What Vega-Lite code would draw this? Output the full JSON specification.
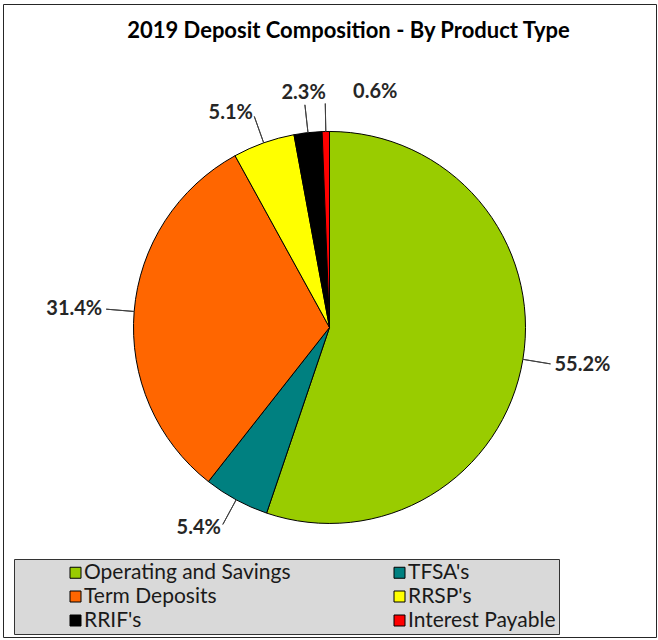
{
  "$schema": "https://vega.github.io/schema/vega-lite/v6.json",
  "width": 653,
  "height": 633,
  "autosize": {"type": "none"},
  "padding": {"left": 3, "top": 4, "right": 2, "bottom": 3},
  "background": "white",
  "title": {
    "text": "2019 Deposit Composition - By Product Type",
    "font": "Lato", "fontSize": 22, "fontWeight": "bold", "color": "#000000",
    "anchor": "middle", "baseline": "alphabetic", "offset": -56, "dx": 19
  },
  "config": {"view": {"stroke": "#262626", "strokeWidth": 1}},
  "data": {"values": [
    {"cat": "Operating and Savings", "share": 0.552},
    {"cat": "TFSA's", "share": 0.054},
    {"cat": "Term Deposits", "share": 0.314},
    {"cat": "RRSP's", "share": 0.051},
    {"cat": "RRIF's", "share": 0.023},
    {"cat": "Interest Payable", "share": 0.006}
  ]},
  "transform": [
    {"window": [{"op": "row_number", "as": "idx"}]},
    {"fold": ["share", "share"], "as": ["part", "half"]},
    {"stack": "half", "groupby": [], "sort": [{"field": "idx", "order": "ascending"}], "as": ["h0", "h1"]},
    {"window": [{"op": "row_number", "as": "copy"}], "groupby": ["cat"], "sort": [{"field": "h0", "order": "ascending"}]},
    {"filter": "datum.copy == 1"}
  ],
  "encoding": {
    "x": {"datum": 0, "type": "quantitative", "scale": {"domain": [-1, 1], "nice": false, "zero": false}, "axis": null},
    "y": {"datum": 0, "type": "quantitative", "scale": {"domain": [-0.489, 0.511], "nice": false, "zero": false}, "axis": null}
  },
  "layer": [
    {
      "mark": {"type": "arc", "radius": 196, "stroke": "#000000", "strokeWidth": 1},
      "encoding": {
        "theta": {"field": "share", "type": "quantitative", "stack": true, "scale": {"domain": [0, 1]}},
        "order": {"field": "idx", "type": "quantitative"},
        "color": {
          "field": "cat", "type": "nominal",
          "scale": {
            "domain": ["Operating and Savings", "TFSA's", "Term Deposits", "RRSP's", "RRIF's", "Interest Payable"],
            "range": ["#99cc00", "#008080", "#ff6600", "#ffff00", "#000000", "#ff0000"]
          },
          "legend": {
            "orient": "none", "legendX": 11, "legendY": 555,
            "columns": 2, "direction": "horizontal", "gridAlign": "all",
            "title": "\u2800\u2800\u2800\u2800\u2800\u2800\u2800\u2800", "titleOrient": "left",
            "titleFont": "DejaVu Sans Mono", "titleFontSize": 7.98, "titlePadding": 0,
            "fillColor": "#d9d9d9", "strokeColor": "#333333", "padding": 3,
            "symbolType": "square", "symbolSize": 121, "symbolStrokeColor": "#000000",
            "symbolStrokeWidth": 1, "symbolOpacity": 1,
            "labelFont": "Lato, DejaVu Sans Mono", "labelFontSize": 21, "labelColor": "#1a1a1a",
            "labelOffset": -2, "labelLimit": 600,
            "columnPadding": 67, "rowPadding": 2,
            "labelExpr": "datum.label == 'Operating and Savings' ? datum.label + '\u00a0\u00a0\u00a0\u2800' : datum.label"
          }
        }
      }
    },
    {
      "mark": {"type": "arc", "stroke": "#404040", "strokeWidth": 1, "fillOpacity": 0},
      "encoding": {
        "theta": {"field": "h1", "type": "quantitative", "stack": null, "scale": {"domain": [0, 2]}},
        "theta2": {"field": "h1"},
        "radius": {"value": 224},
        "radius2": {"value": 196}
      }
    },
    {
      "transform": [{"filter": {"field": "cat", "oneOf": ["Operating and Savings"]}}],
      "mark": {"type": "text", "align": "left", "baseline": "middle", "font": "Lato", "fontSize": 20, "fontWeight": "bold", "color": "#262626"},
      "encoding": {
        "theta": {"field": "h1", "type": "quantitative", "stack": null, "scale": {"domain": [0, 2]}},
        "radius": {"value": 228},
        "text": {"field": "share", "type": "quantitative", "format": ".1%"}
      }
    },
    {
      "transform": [{"filter": {"field": "cat", "oneOf": ["TFSA's", "Term Deposits", "RRSP's"]}}],
      "mark": {"type": "text", "align": "right", "baseline": "middle", "font": "Lato", "fontSize": 20, "fontWeight": "bold", "color": "#262626"},
      "encoding": {
        "theta": {"field": "h1", "type": "quantitative", "stack": null, "scale": {"domain": [0, 2]}},
        "radius": {"value": 228},
        "text": {"field": "share", "type": "quantitative", "format": ".1%"}
      }
    },
    {
      "transform": [{"filter": {"field": "cat", "oneOf": ["RRIF's"]}}],
      "mark": {"type": "text", "align": "center", "baseline": "middle", "font": "Lato", "fontSize": 20, "fontWeight": "bold", "color": "#262626"},
      "encoding": {
        "theta": {"field": "h1", "type": "quantitative", "stack": null, "scale": {"domain": [0, 2]}},
        "radius": {"value": 236},
        "text": {"field": "share", "type": "quantitative", "format": ".1%"}
      }
    },
    {
      "transform": [{"filter": {"field": "cat", "oneOf": ["Interest Payable"]}}],
      "mark": {"type": "text", "align": "left", "baseline": "middle", "dx": 28, "font": "Lato", "fontSize": 20, "fontWeight": "bold", "color": "#262626"},
      "encoding": {
        "theta": {"field": "h1", "type": "quantitative", "stack": null, "scale": {"domain": [0, 2]}},
        "radius": {"value": 236},
        "text": {"field": "share", "type": "quantitative", "format": ".1%"}
      }
    }
  ],
  "resolve": {"scale": {"theta": "independent"}}
}
